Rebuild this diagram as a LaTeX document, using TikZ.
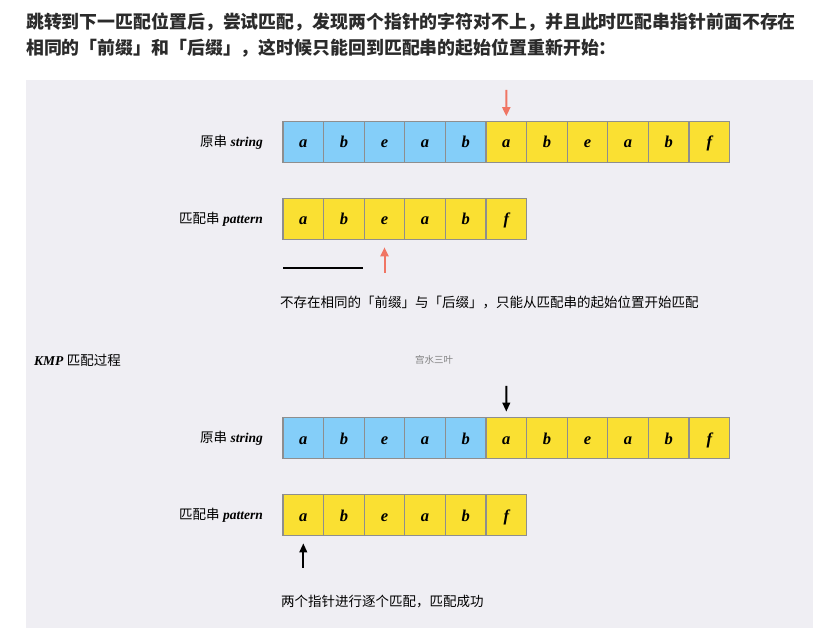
\documentclass[tikz,border=0pt]{standalone}
\usepackage{fontspec}
\setmainfont{Liberation Serif}
\newfontfamily\cjk{Noto Sans CJK SC}
\usetikzlibrary{arrows.meta}
\definecolor{panelbg}{HTML}{EFEEF3}
\definecolor{cellblue}{HTML}{84CEF9}
\definecolor{cellyellow}{HTML}{FAE032}
\definecolor{cellborder}{HTML}{8E8E8E}
\definecolor{ptrred}{HTML}{F07564}
\definecolor{headtext}{HTML}{2B2B2B}
\tikzset{
  cell/.style={draw=cellborder, line width=1.3pt, minimum width=40.6pt, minimum height=40.6pt,
    inner sep=0pt, outer sep=0pt, text height=13pt, text depth=1pt,
    font=\fontsize{16.5}{16}\selectfont\bfseries\itshape},
  bluecell/.style={cell, fill=cellblue},
  yellowcell/.style={cell, fill=cellyellow},
  rowlabel/.style={anchor=east, inner sep=0pt, font=\fontsize{13.5}{14}\selectfont},
  note/.style={anchor=west, inner sep=0pt, font=\cjk\fontsize{13.5}{14}\selectfont},
  redptr/.style={-{Triangle[length=9pt,width=8pt]}, draw=ptrred, fill=ptrred, line width=2pt},
  blackptr/.style={-{Triangle[length=9pt,width=7.5pt]}, draw=black, fill=black, line width=2pt},
  heading/.style={anchor=west, inner sep=0pt, text=headtext, font=\cjk\bfseries\fontsize{17.9}{20}\selectfont}
}
\begin{document}
\begin{tikzpicture}[x=1pt, y=-1pt]
\useasboundingbox (0,0) rectangle (823,639);
\fill[white] (0,0) rectangle (823,639);
\fill[panelbg] (26,80) rectangle (813,628);

\node[heading] (h1) at (26,22) {跳转到下一匹配位置后，尝试匹配，发现两个指针的字符对不上，并且此时匹配串指针前面不存在};
\node[heading] (h2) at (26,48) {相同的「前缀」和「后缀」，这时候只能回到匹配串的起始位置重新开始：};

% top string row
\foreach \ch [count=\i] in {a,b,e,a,b,a,b,e,a,b,f} {
  \pgfmathsetmacro{\cx}{283+40.6*(\i-0.5)}
  \ifnum\i<6
    \node[bluecell] (s\i) at (\cx,142) {\ch};
  \else
    \node[yellowcell] (s\i) at (\cx,142) {\ch};
  \fi
}
\foreach \ch [count=\i] in {a,b,e,a,b,f} {
  \pgfmathsetmacro{\cx}{283+40.6*(\i-0.5)}
  \node[yellowcell] (p\i) at (\cx,219) {\ch};
}
\node[rowlabel] (ls) at (263,142) {{\cjk 原串} \textbf{\textit{string}}};
\node[rowlabel] (lp) at (263,219) {{\cjk 匹配串} \textbf{\textit{pattern}}};

\coordinate (ra) at (506.3,90);
\draw[redptr] (ra) -- ([yshift=5.5pt]s6.north);
\coordinate (rb) at (384.5,273);
\draw[redptr] (rb) -- ([yshift=-8pt]p3.south);
\coordinate (bl1) at (283,268);
\coordinate (bl2) at (363,268);
\draw[line width=2pt] (bl1) -- (bl2);
\node[note] (n1) at (280,303) {不存在相同的「前缀」与「后缀」，只能从匹配串的起始位置开始匹配};

\node[anchor=west, inner sep=0pt, font=\fontsize{13.5}{14}\selectfont] (kmp) at (34,360) {\textbf{\textit{KMP}} {\cjk 匹配过程}};
\node[anchor=west, inner sep=0pt, text=gray, font=\cjk\fontsize{9.5}{10}\selectfont] (wm) at (415,360) {宫水三叶};

% bottom rows
\foreach \ch [count=\i] in {a,b,e,a,b,a,b,e,a,b,f} {
  \pgfmathsetmacro{\cx}{283+40.6*(\i-0.5)}
  \ifnum\i<6
    \node[bluecell] (t\i) at (\cx,438) {\ch};
  \else
    \node[yellowcell] (t\i) at (\cx,438) {\ch};
  \fi
}
\foreach \ch [count=\i] in {a,b,e,a,b,f} {
  \pgfmathsetmacro{\cx}{283+40.6*(\i-0.5)}
  \node[yellowcell] (q\i) at (\cx,515) {\ch};
}
\node[rowlabel] (lt) at (263,438) {{\cjk 原串} \textbf{\textit{string}}};
\node[rowlabel] (lq) at (263,515) {{\cjk 匹配串} \textbf{\textit{pattern}}};

\coordinate (ba) at (506.3,386);
\draw[blackptr] (ba) -- ([yshift=6pt]t6.north);
\coordinate (bb) at (303.3,568);
\draw[blackptr] (bb) -- ([yshift=-8pt]q1.south);
\node[note] (n2) at (281,602) {两个指针进行逐个匹配，匹配成功};
\end{tikzpicture}
\end{document}
